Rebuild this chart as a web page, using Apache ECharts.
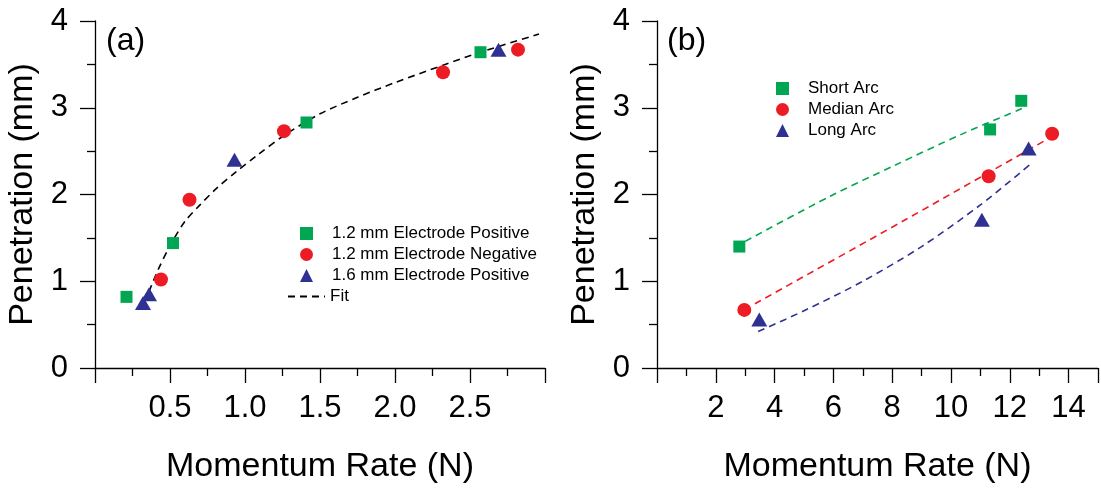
<!DOCTYPE html>
<html>
<head>
<meta charset="utf-8">
<script src="https://cdn.jsdelivr.net/npm/echarts@6/dist/echarts.min.js"></script>
<style>
  html, body { margin: 0; padding: 0; background: #ffffff; }
  #chart { width: 1101px; height: 489px; }
</style>
</head>
<body>
<div id="chart"></div>
<script>
// Panel (a): penetration vs momentum rate, by electrode size and polarity
const posE12 = [[0.21, 0.82], [0.52, 1.44], [1.41, 2.83], [2.57, 3.64]];
const negE12 = [[0.44, 1.02], [0.63, 1.94], [1.26, 2.73], [2.32, 3.41], [2.82, 3.67]];
const posE16 = [[0.32, 0.75], [0.36, 0.85], [0.93, 2.40], [2.69, 3.67]];
const fitA = [[0.33, 0.75], [0.42, 1.13], [0.51, 1.44], [0.60, 1.69], [0.70, 1.88],
              [0.81, 2.07], [0.94, 2.26], [1.08, 2.45], [1.26, 2.68], [1.50, 2.93],
              [1.75, 3.12], [2.00, 3.29], [2.32, 3.49], [2.57, 3.64], [2.96, 3.85]];

// Panel (b): penetration vs momentum rate, by arc length
const shortArc = [[2.80, 1.40], [11.33, 2.75], [12.39, 3.08]];
const medianArc = [[2.97, 0.67], [11.28, 2.21], [13.44, 2.70]];
const longArc = [[3.48, 0.56], [11.05, 1.71], [12.64, 2.53]];
const fitShort = [[3.00, 1.46], [5.89, 1.98], [8.11, 2.34], [10.33, 2.69], [12.55, 3.01]];
const fitMedian = [[3.33, 0.74], [8.40, 1.70], [13.55, 2.69]];
const fitLong = [[3.44, 0.42], [5.00, 0.66], [7.00, 1.00], [9.00, 1.40], [11.00, 1.88], [12.67, 2.34]];

// Tick labels
const xLabelsA = [0.5, 1.0, 1.5, 2.0, 2.5];
const xLabelsB = [2, 4, 6, 8, 10, 12, 14];
const yLabels = [0, 1, 2, 3, 4];

const FONT = '"Liberation Sans", Arial, sans-serif';
const GREEN = '#00A651', RED = '#ED1C24', BLUE = '#2E3192';

const axisLineStyle = { color: '#000', width: 1.3 };

function xAxisDef(gridIndex, max, interval, labels, fmt) {
  return {
    type: 'value', gridIndex, min: 0, max, interval,
    name: 'Momentum Rate (N)', nameLocation: 'middle', nameGap: 82,
    nameTextStyle: { fontSize: 34, fontFamily: FONT, color: '#000' },
    axisLine: { onZero: false, lineStyle: axisLineStyle },
    axisTick: { length: 15, lineStyle: axisLineStyle },
    minorTick: { show: true, splitNumber: 2, length: 8, lineStyle: axisLineStyle },
    splitLine: { show: false },
    axisLabel: {
      margin: 25, fontSize: 31, fontFamily: FONT, color: '#000',
      formatter: v => labels.some(l => Math.abs(l - v) < 1e-9) ? fmt(v) : ''
    }
  };
}

function yAxisDef(gridIndex) {
  return {
    type: 'value', gridIndex, min: 0, max: 4, interval: 1,
    name: 'Penetration (mm)', nameLocation: 'middle', nameGap: 55,
    nameTextStyle: { fontSize: 34, fontFamily: FONT, color: '#000' },
    axisLine: { onZero: false, lineStyle: axisLineStyle },
    axisTick: { length: 15, lineStyle: axisLineStyle },
    minorTick: { show: true, splitNumber: 2, length: 8, lineStyle: axisLineStyle },
    splitLine: { show: false },
    axisLabel: {
      margin: 27, fontSize: 31, fontFamily: FONT, color: '#000',
      formatter: v => yLabels.includes(v) ? String(v) : ''
    }
  };
}

function scatter(name, data, symbol, size, color, axis) {
  return {
    name, type: 'scatter', data, symbol, symbolSize: size,
    xAxisIndex: axis, yAxisIndex: axis,
    itemStyle: { color, opacity: 1 }, z: 3
  };
}

function fitLine(name, data, color, axis) {
  return {
    name, type: 'line', data, smooth: 0.3, symbol: 'none',
    xAxisIndex: axis, yAxisIndex: axis,
    lineStyle: { color, width: 1.6, type: [7, 5] },
    itemStyle: { color }, z: 2
  };
}

const legendText = { fontSize: 17, fontFamily: FONT, color: '#000' };
const markerLegendText = Object.assign({ padding: [0, 0, 0, 14] }, legendText);

function markerLegend(names, left, top) {
  return {
    data: names, orient: 'vertical', left, top, padding: 0,
    itemWidth: 13, itemHeight: 13, itemGap: 4,
    textStyle: markerLegendText, selectedMode: false
  };
}

const option = {
  animation: false,
  backgroundColor: '#ffffff',
  title: [
    { text: '(a)', left: 106, top: 25, padding: 0,
      textStyle: { fontSize: 32, fontWeight: 'normal', fontFamily: FONT, color: '#000' } },
    { text: '(b)', left: 667, top: 25, padding: 0,
      textStyle: { fontSize: 32, fontWeight: 'normal', fontFamily: FONT, color: '#000' } }
  ],
  grid: [
    { left: 95, top: 21, width: 450, height: 347 },
    { left: 657, top: 21, width: 450, height: 347 }
  ],
  xAxis: [
    xAxisDef(0, 3, 0.5, xLabelsA, v => v.toFixed(1)),
    xAxisDef(1, 15, 2, xLabelsB, v => String(v))
  ],
  yAxis: [yAxisDef(0), yAxisDef(1)],
  legend: [
    markerLegend(['1.2 mm Electrode Positive', '1.2 mm Electrode Negative', '1.6 mm Electrode Positive'], 300, 225),
    {
      data: [{ name: 'Fit', itemStyle: { opacity: 0 } }],
      orient: 'vertical', left: 287, top: 288, padding: 0,
      itemWidth: 37, itemHeight: 13, textStyle: legendText, selectedMode: false
    },
    markerLegend(['Short Arc', 'Median Arc', 'Long Arc'], 776, 80)
  ],
  series: [
    fitLine('Fit', fitA, '#000', 0),
    scatter('1.2 mm Electrode Positive', posE12, 'rect', 12, GREEN, 0),
    scatter('1.2 mm Electrode Negative', negE12, 'circle', 14, RED, 0),
    scatter('1.6 mm Electrode Positive', posE16, 'triangle', [16, 14], BLUE, 0),

    fitLine('Short Arc fit', fitShort, GREEN, 1),
    fitLine('Median Arc fit', fitMedian, RED, 1),
    fitLine('Long Arc fit', fitLong, BLUE, 1),
    scatter('Short Arc', shortArc, 'rect', 12, GREEN, 1),
    scatter('Median Arc', medianArc, 'circle', 14, RED, 1),
    scatter('Long Arc', longArc, 'triangle', [16, 14], BLUE, 1)
  ]
};

const chart = echarts.init(document.getElementById('chart'), null, { renderer: 'canvas' });
chart.setOption(option);
</script>
</body>
</html>
